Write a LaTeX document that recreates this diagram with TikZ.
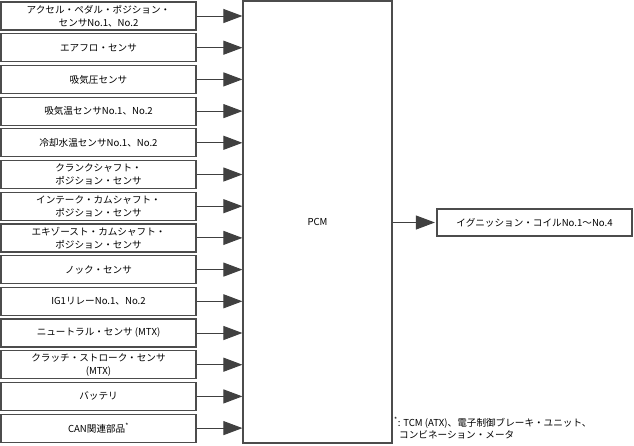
\documentclass[tikz,border=0pt]{standalone}
\usepackage{fontspec}
\setmainfont{Noto Sans CJK JP}
\usetikzlibrary{arrows.meta}

\begin{document}
\begin{tikzpicture}[x=1pt,y=-1pt,
  font=\fontsize{9.6}{12.8}\selectfont,
  inbox/.style={draw=black!70, line width=1.2pt, minimum width=195pt, minimum height=28pt, align=center, inner sep=1pt, text=black},
  sig/.style={draw=black!75, line width=1pt, -{Triangle[length=19pt,width=14pt]}}]
\useasboundingbox (0,0) rectangle (634,445);
% ECU
\node[draw=black!70, line width=1.2pt, minimum width=149pt, minimum height=442pt] (pcm) at (317.5,222) {PCM};
% inputs
\foreach \i/\txt in {1/{アクセル・ペダル・ポジション・\\センサNo.1、No.2},
    2/{エアフロ・センサ},
    3/{吸気圧センサ},
    4/{吸気温センサNo.1、No.2},
    5/{冷却水温センサNo.1、No.2},
    6/{クランクシャフト・\\ポジション・センサ},
    7/{インテーク・カムシャフト・\\ポジション・センサ},
    8/{エキゾースト・カムシャフト・\\ポジション・センサ},
    9/{ノック・センサ},
    10/{IG1リレーNo.1、No.2},
    11/{ニュートラル・センサ (MTX)},
    12/{クラッチ・ストローク・センサ\\(MTX)},
    13/{バッテリ},
    14/{CAN関連部品\textsuperscript{*}}}{
  \node[inbox] (s\i) at (98.5,{16+31.7*(\i-1)}) {\txt};
  \draw[sig] (s\i.east) -- (pcm.west |- s\i.east);
}
% output
\node[inbox, minimum height=27pt] (ign) at (534.5,222.5) {イグニッション・コイルNo.1～No.4};
\draw[sig] (pcm.east |- ign.west) -- ([xshift=-1.5pt]ign.west);
% note
\node[anchor=north west, align=left, inner sep=0pt] (note) at (394,417)
  {\textsuperscript{*}: TCM (ATX)、電子制御ブレーキ・ユニット、\\\hspace{5pt}コンビネーション・メータ};
\end{tikzpicture}
\end{document}
